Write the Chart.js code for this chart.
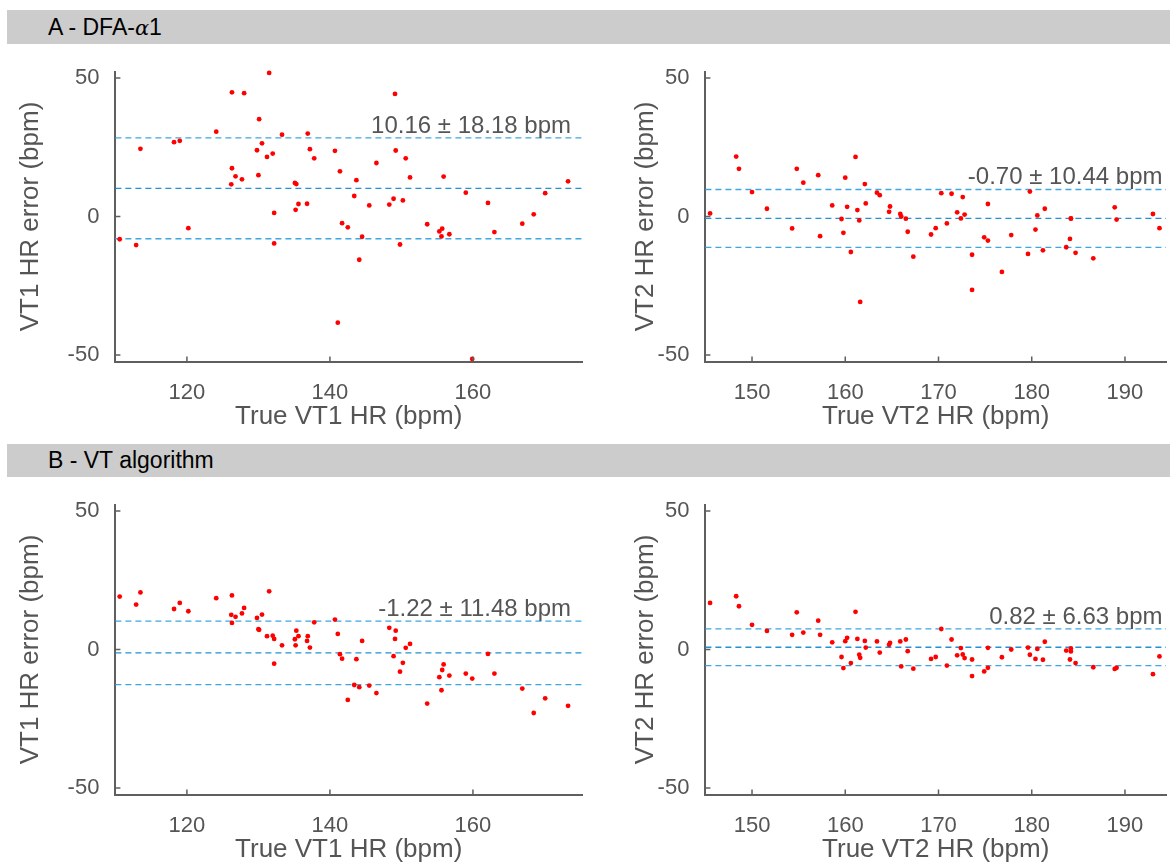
<!DOCTYPE html>
<html>
<head>
<meta charset="utf-8">
<script src="https://cdn.jsdelivr.net/npm/chart.js@4.4.1/dist/chart.umd.min.js"></script>
<style>
  html, body { margin: 0; padding: 0; width: 1170px; height: 863px; overflow: hidden; background: #fff; }
  body { font-family: "Liberation Sans", Arial, sans-serif; position: relative; }
  .bar { position: absolute; left: 7px; right: 0; background: #cccccc; color: #000;
         font-size: 23px; padding-left: 41px; box-sizing: border-box; }
  .bar i { font-family: "DejaVu Serif", serif; font-size: 21px; }
  canvas { position: absolute; }
</style>
</head>
<body>
<div class="bar" style="top:10px;height:34px;line-height:34px">A - DFA-<i>α</i>1</div>
<div class="bar" style="top:444px;height:33px;line-height:33px">B - VT algorithm</div>
<canvas id="aLeft"  width="586" height="380" style="left:0;top:60px"></canvas>
<canvas id="aRight" width="580" height="380" style="left:590px;top:60px"></canvas>
<canvas id="bLeft"  width="586" height="380" style="left:0;top:493px"></canvas>
<canvas id="bRight" width="580" height="380" style="left:590px;top:493px"></canvas>

<script>
// ── Data ──────────────────────────────────────────────────────
// true VT1 heart rate (shared by both left panels)
const vt1Hr = [110.6, 112.9, 113.5, 118.2, 119.0, 120.2, 124.1, 126.2, 126.3, 126.3,
  126.8, 127.7, 128.0, 129.8, 130.0, 130.1, 130.5, 131.2, 131.5, 132.0,
  132.2, 132.2, 133.3, 135.1, 135.2, 135.3, 135.6, 136.8, 136.9, 137.2,
  137.8, 140.7, 141.1, 141.4, 141.7, 142.5, 143.4, 143.7, 144.1, 144.5,
  145.5, 146.5, 148.3, 148.9, 149.1, 149.2, 149.8, 150.2, 150.6, 151.2,
  153.6, 155.3, 155.6, 155.7, 155.9, 156.7, 159.0, 159.9, 162.1, 163.0,
  166.9, 168.5, 170.1, 173.3];
const dfaVt1Err = [-8.2, -10.3, 24.4, 26.8, 27.3, -4.2, 30.6, 11.6, 44.8, 17.4,
  14.5, 13.4, 44.5, 23.9, 14.9, 35.1, 26.4, 21.5, 51.8, 22.7,
  -9.7, 1.3, 29.5, 12.1, 2.4, 11.7, 4.5, 4.6, 29.9, 24.3,
  21.0, 23.7, -38.3, 16.3, -2.4, -3.9, 7.4, 13.1, -15.6, -7.3,
  4.0, 19.3, 4.3, 6.4, 44.2, 23.8, -10.1, 5.8, 21.0, 14.1,
  -2.8, -5.4, -7.2, -4.4, 14.4, -6.4, 8.6, -51.4, 4.9, -5.6,
  -2.6, 0.8, 8.4, 12.7];
const algVt1Err = [19.1, 16.2, 20.6, 14.6, 16.8, 13.8, 18.5, 12.5, 19.5, 9.6,
  11.8, 13.0, 15.0, 11.4, 7.3, 7.1, 12.6, 4.8, 21.0, 5.0,
  -5.1, 3.8, 1.5, 3.7, 1.5, 6.8, 4.8, 3.1, 4.8, 0.7,
  9.8, 10.8, 5.6, -1.7, -3.3, -18.2, -12.8, -3.5, -13.6, 3.1,
  -13.0, -15.7, 7.8, -2.4, 3.8, 6.8, -8.0, -4.8, 0.6, 2.0,
  -19.5, -10.0, -14.7, -7.4, -5.4, -9.4, -8.7, -10.5, -1.6, -8.7,
  -14.1, -22.9, -17.6, -20.3];

// true VT2 heart rate (shared by both right panels)
const vt2Hr = [145.5, 148.3, 148.6, 150.0, 151.6, 154.3, 154.8, 155.5, 157.1, 157.3,
  158.6, 159.6, 159.8, 160.0, 160.2, 160.6, 161.1, 161.3, 161.5, 161.6,
  162.1, 162.2, 163.4, 163.7, 164.7, 164.8, 165.9, 166.0, 166.5, 166.7,
  167.3, 169.2, 169.7, 170.3, 170.9, 171.4, 172.0, 172.4, 172.6, 172.8,
  173.6, 173.6, 174.9, 175.3, 175.3, 176.8, 177.8, 179.6, 179.8, 180.4,
  180.6, 181.2, 181.4, 183.7, 184.1, 184.2, 184.2, 184.7, 186.6, 188.9,
  189.1, 193.0, 193.7];
const dfaVt2Err = [1.1, 21.6, 17.2, 8.8, 2.8, -4.3, 17.2, 12.2, 14.9, -7.1,
  4.0, -0.9, -5.9, 14.0, 3.5, -12.8, 21.5, 2.3, -1.4, -30.8,
  11.7, 4.7, 8.6, 7.7, 1.7, 3.6, 0.9, 0.0, -0.8, -5.5,
  -14.5, -6.5, -4.2, 8.4, -2.5, 8.2, 1.5, -0.7, 7.0, 0.7,
  -13.8, -26.5, -7.5, -8.7, 4.5, -20.0, -6.7, -13.5, 9.0, -4.7,
  0.4, -12.2, 2.8, -11.1, -8.1, -0.8, -0.7, -13.1, -15.1, 3.3,
  -1.1, 0.9, -4.2];
const algVt2Err = [16.8, 19.2, 15.6, 8.9, 6.7, 5.3, 13.4, 6.1, 10.4, 5.3,
  2.6, -2.7, -6.7, 3.0, 4.2, -4.9, 13.6, 3.8, -1.9, -3.0,
  3.1, 0.7, 2.9, -1.1, 1.7, 2.4, 2.9, -6.1, 3.6, -0.6,
  -6.9, -3.4, -2.7, 7.4, -5.8, 3.6, -2.1, 0.5, -1.8, -3.1,
  -3.6, -9.6, -7.9, -6.6, 0.6, -2.8, 0.0, 0.7, -1.9, -3.4,
  0.2, -3.7, 2.8, -0.4, -3.6, 0.4, -0.7, -4.9, -6.4, -7.0,
  -6.6, -8.9, -2.5];

// bias and limits of agreement: A-VT1, A-VT2, B-VT1, B-VT2
const biasValues = [10.16, -0.70, -1.22, 0.82];
const loaValues  = [18.18, 10.44, 11.48, 6.63];

const vt1Ticks = [120, 140, 160];
const vt2Ticks = [150, 160, 170, 180, 190];
const errTicks = [-50, 0, 50];

// ── Styles ────────────────────────────────────────────────────
const FONT = '"Liberation Sans", Arial, sans-serif';
const TEXT = '#555555';
const AXIS = '#5f5f5f';
const MEAN_COLOR = '#2391d3';
const LOA_COLOR  = '#3ea7df';

// small inward ticks like the original figure
const innerTicks = {
  id: 'innerTicks',
  afterDraw(chart) {
    const { ctx, chartArea: a, scales: { x, y } } = chart;
    ctx.save();
    ctx.strokeStyle = AXIS;
    ctx.lineWidth = 1.5;
    ctx.beginPath();
    x.ticks.forEach(t => {
      const px = x.getPixelForValue(t.value);
      ctx.moveTo(px, a.bottom);
      ctx.lineTo(px, a.bottom - 5);
    });
    y.ticks.forEach(t => {
      const py = y.getPixelForValue(t.value);
      ctx.moveTo(a.left, py);
      ctx.lineTo(a.left + 5, py);
    });
    ctx.stroke();
    ctx.restore();
  }
};

// "bias ± loa bpm" label, right edge near the largest x value
const statLabel = {
  id: 'statLabel',
  afterDatasetsDraw(chart, args, opts) {
    const { ctx, scales: { x, y } } = chart;
    ctx.save();
    ctx.font = '24px ' + FONT;
    ctx.fillStyle = TEXT;
    ctx.textAlign = 'right';
    ctx.textBaseline = 'alphabetic';
    ctx.fillText(opts.text, x.getPixelForValue(opts.xRight) + 3, y.getPixelForValue(opts.yTop) - 5);
    ctx.restore();
  }
};

function makePanel(id, xs, ys, bias, loa, xRange, xTicks, xTitle, yTitle, yTitlePad) {
  const levels = [bias + loa, bias, bias - loa];
  const lineSets = levels.map((v, i) => ({
    data: [{ x: xRange[0], y: v }, { x: xRange[1], y: v }],
    showLine: true,
    borderColor: i === 1 ? MEAN_COLOR : LOA_COLOR,
    borderWidth: 1.3,
    borderDash: [6, 4],
    pointRadius: 0,
    clip: false,
  }));

  return new Chart(document.getElementById(id), {
    type: 'scatter',
    data: {
      datasets: [{
        data: xs.map((x, i) => ({ x, y: ys[i] })),
        backgroundColor: '#ff0000',
        borderWidth: 0,
        pointRadius: 2.4,
        clip: false,
      }, ...lineSets],
    },
    options: {
      responsive: false,
      animation: false,
      layout: { padding: { top: 11.5, right: 0, bottom: 0, left: 0 } },
      plugins: {
        legend: { display: false },
        tooltip: { enabled: false },
        statLabel: {
          text: `${bias.toFixed(2)} ± ${loa.toFixed(2)} bpm`,
          xRight: Math.max(...xs),
          yTop: bias + loa,
        },
      },
      scales: {
        x: {
          type: 'linear',
          min: xRange[0],
          max: xRange[1],
          afterBuildTicks: s => { s.ticks = xTicks.map(v => ({ value: v })); },
          afterFit: s => { s.height = 78.5; s.paddingLeft = 0; s.paddingRight = 0; },
          grid: { display: false },
          border: { display: true, color: AXIS, width: 2 },
          ticks: { color: TEXT, font: { size: 22, family: FONT }, padding: 10, maxRotation: 0, autoSkip: false },
          title: { display: true, text: xTitle, color: TEXT, font: { size: 26, family: FONT }, padding: { top: 0, bottom: 7.7 } },
        },
        y: {
          type: 'linear',
          min: -52.3,
          max: 52.3,
          afterBuildTicks: s => { s.ticks = errTicks.map(v => ({ value: v })); },
          afterFit: s => { s.width = 115.4; s.paddingTop = 0; s.paddingBottom = 0; },
          grid: { display: false },
          border: { display: true, color: AXIS, width: 2 },
          ticks: { color: TEXT, font: { size: 22, family: FONT }, padding: 8 },
          title: { display: true, text: yTitle, color: TEXT, font: { size: 26, family: FONT }, padding: { top: yTitlePad, bottom: 0 } },
        },
      },
    },
    plugins: [statLabel, innerTicks],
  });
}

makePanel('aLeft',  vt1Hr, dfaVt1Err, biasValues[0], loaValues[0], [110, 175.25], vt1Ticks, 'True VT1 HR (bpm)', 'VT1 HR error (bpm)', 15.4);
makePanel('aRight', vt2Hr, dfaVt2Err, biasValues[1], loaValues[1], [145, 194.4],  vt2Ticks, 'True VT2 HR (bpm)', 'VT2 HR error (bpm)', 40.4);
makePanel('bLeft',  vt1Hr, algVt1Err, biasValues[2], loaValues[2], [110, 175.25], vt1Ticks, 'True VT1 HR (bpm)', 'VT1 HR error (bpm)', 15.4);
makePanel('bRight', vt2Hr, algVt2Err, biasValues[3], loaValues[3], [145, 194.4],  vt2Ticks, 'True VT2 HR (bpm)', 'VT2 HR error (bpm)', 40.4);
</script>
</body>
</html>
